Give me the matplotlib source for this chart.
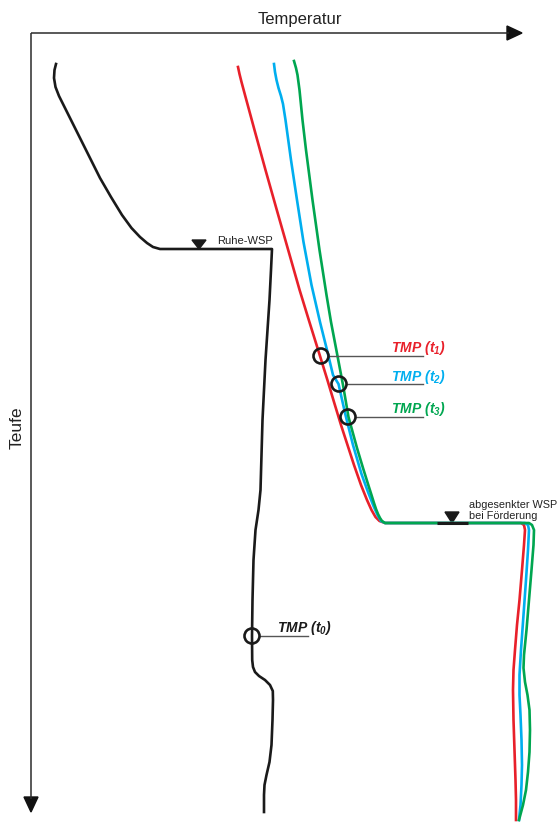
import matplotlib.pyplot as plt
from matplotlib.patches import Circle, Polygon

plt.rcParams["font.family"] = ["Liberation Sans", "DejaVu Sans"]
plt.rcParams["mathtext.fontset"] = "custom"
plt.rcParams["mathtext.rm"] = "Liberation Sans:italic:bold"
plt.rcParams["mathtext.it"] = "Liberation Sans:italic:bold"

# curves (pixel coords, y grows downwards)
t0_x = [56, 54.5, 54, 55.5, 59, 65, 72.5, 80, 90, 100, 111, 122, 131.5, 140, 147, 153, 160, 272,
        271, 269.5, 267.5, 265.5, 264, 262.5, 261.5, 260.5, 258.5, 255.5, 253.5, 252.5, 252,
        252.2, 253, 255, 259, 265, 270, 272.8, 273, 272.5, 271.5, 269.5, 266.5, 264.5, 264, 264]
t0_y = [64, 70, 78, 87, 96, 108, 123, 138, 158, 178, 197, 215, 228, 237, 243, 247, 249, 249,
        270, 300, 330, 360, 390, 420, 455, 490, 510, 530, 560, 600, 636,
        660, 667, 672, 676, 680, 685, 691, 700, 720, 745, 762, 775, 785, 795, 812]

t1_x = [238, 239.5, 241.5, 245, 254.5, 265.5, 276.8, 288.2, 299.6, 308.8, 320, 327.4,
        334, 341, 347.5, 354, 361, 367, 371.5, 375.5, 379.5, 385,
        521, 524, 525, 524, 522, 519.5, 517, 515, 513.5, 513, 513.5, 514.5, 515.5, 516, 516]
t1_y = [67, 74, 82, 95, 130, 170, 210, 250, 290, 320, 356, 380,
        402, 425, 445, 465, 485, 500, 510, 517, 521, 523,
        523, 525, 530, 545, 570, 600, 625, 650, 670, 690, 720, 750, 780, 800, 820]

t2_x = [274, 275, 276.5, 278.5, 281, 283, 285.5, 291, 297, 303.5, 311.5, 320, 327,
        333, 338.5, 345.5, 353, 361.5, 368, 373.5, 377.5, 381, 385,
        525, 528, 529, 528, 526, 523.5, 521, 519.5, 519.5, 520.5, 521.5, 522, 521.5, 520.5, 519]
t2_y = [64, 72, 80, 88, 96, 104, 120, 160, 200, 242, 285, 322, 350,
        375, 384, 415, 445, 474, 492, 506, 515, 521, 523,
        523, 525, 530, 550, 580, 615, 650, 675, 695, 715, 740, 765, 785, 805, 820]

t3_x = [294, 296, 297.5, 299.5, 302.5, 306, 312.5, 319.5, 326.5, 331, 337.5, 343,
        348.5, 357, 363, 368, 371.5, 374, 376, 378, 380, 382, 385,
        529, 532, 534, 533.5, 531.5, 529, 526.5, 524, 523.5, 525, 527.5, 529.5, 530, 529.5,
        528, 526, 523, 519]
t3_y = [61, 68, 75, 90, 120, 150, 200, 250, 295, 322, 356, 385,
        417, 448, 468, 484, 495, 503, 509, 514, 518, 521, 523,
        523, 525, 530, 545, 570, 600, 630, 655, 668, 682, 695, 710, 730, 752, 772, 790,
        805, 820]

series = [
    (t1_x, t1_y, "#e8202a"),
    (t2_x, t2_y, "#00aeef"),
    (t3_x, t3_y, "#00a650"),
]

# measuring points: circle x, y, label, colour, label right edge x, label y
marks = [
    (321, 356, "$TMP\\ (t_1)$", "#e8202a", 446, 348),
    (339, 384, "$TMP\\ (t_2)$", "#00aeef", 446, 377),
    (348, 417, "$TMP\\ (t_3)$", "#00a650", 446, 409),
    (252, 636, "$TMP\\ (t_0)$", "#1a1a1a", 332, 628),
]

fig = plt.figure(figsize=(5.57, 8.24), dpi=100)
ax = fig.add_axes([0, 0, 1, 1])
ax.set_xlim(0, 557)
ax.set_ylim(824, 0)
ax.axis("off")

axc = "#2b2b2b"
# axes with arrows
ax.plot([31, 509], [33, 33], color=axc, lw=1.1, solid_capstyle="butt")
ax.plot([31, 31], [33, 799], color=axc, lw=1.1, solid_capstyle="butt")
ax.add_patch(Polygon([[507, 26], [522, 33], [507, 40]], closed=True, color="#111111"))
ax.add_patch(Polygon([[24, 797], [38, 797], [31, 812]], closed=True, color="#111111"))
ax.text(300, 19, "Temperatur", fontsize=12, ha="center", va="center", color="#222222")
ax.text(17, 428, "Teufe", fontsize=12.5, rotation=90, ha="center", va="center", color="#222222")

# curves
ax.plot(t0_x, t0_y, color="#1a1a1a", lw=1.9, solid_joinstyle="round")
for xs, ys, c in series:
    ax.plot(xs, ys, color=c, lw=1.9, solid_joinstyle="round")

# water levels
ax.add_patch(Polygon([[192, 240], [206, 240], [199, 249]], closed=True, color="#1a1a1a"))
ax.text(217, 241, "Ruhe-WSP", fontsize=8, ha="left", va="center", color="#222222")
ax.plot([437, 468], [523, 523], color="#1a1a1a", lw=2.2, solid_capstyle="butt")
ax.add_patch(Polygon([[445, 512], [459, 512], [452, 523]], closed=True, color="#1a1a1a"))
ax.text(469, 505, "abgesenkter WSP", fontsize=7.8, ha="left", va="center", color="#222222")
ax.text(469, 516, "bei Förderung", fontsize=7.8, ha="left", va="center", color="#222222")

# measurement circles with leaders
for cx, cy, lab, c, tx, ty in marks:
    ax.add_patch(Circle((cx, cy), 7.5, fill=False, ec="#1a1a1a", lw=1.9, zorder=5))
    x_end = 423 if tx > 400 else 308
    ax.plot([cx + 7.5, x_end], [cy, cy], color="#555555", lw=1.0)
    ax.text(tx, ty, lab, fontsize=10, color=c, ha="right", va="center")

fig.savefig("out.png", dpi=100)
